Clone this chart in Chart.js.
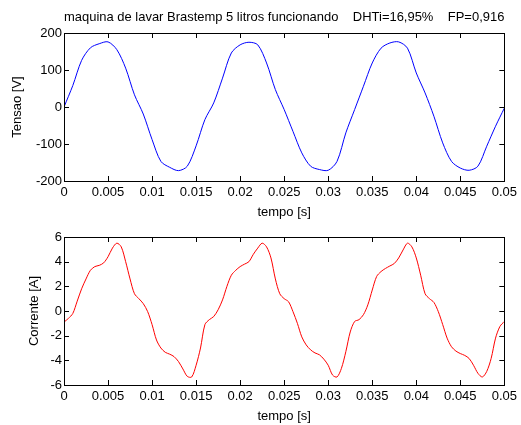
<!DOCTYPE html>
<html>
<head>
<meta charset="utf-8">
<script src="https://cdn.jsdelivr.net/npm/chart.js@4"></script>
<style>
  body { margin: 0; background: #fff; }
  #wrap { position: relative; width: 521px; height: 425px; }
  canvas { position: absolute; left: 0; }
  #tensao { top: 0; }
  #corrente { top: 220px; }
</style>
</head>
<body>
<div id="wrap">
  <canvas id="tensao" width="521" height="220"></canvas>
  <canvas id="corrente" width="521" height="204"></canvas>
</div>
<script>
// time base for the voltage trace (s)
const tempoV = [0, 0.001, 0.002, 0.003, 0.004, 0.005, 0.006, 0.007, 0.008, 0.009,
  0.010, 0.011, 0.012, 0.013, 0.014, 0.015, 0.016, 0.017, 0.018, 0.019,
  0.020, 0.021, 0.022, 0.023, 0.024, 0.025, 0.026, 0.027, 0.028, 0.029,
  0.030, 0.031, 0.032, 0.033, 0.034, 0.035, 0.036, 0.037, 0.038, 0.039,
  0.040, 0.041, 0.042, 0.043, 0.044, 0.045, 0.046, 0.047, 0.048, 0.049, 0.050];
// voltage [V]
const tensao = [0, 58, 126, 160, 171, 176, 155, 105, 33, -19,
  -88, -147, -163, -172, -160, -105, -34, 11, 78, 146,
  168, 175, 168, 119, 47, -7, -66, -124, -160, -169,
  -171, -147, -70, -7, 56, 119, 159, 173, 176, 159,
  92, 38, -25, -97, -147, -165, -171, -160, -106, -52, -3];

// time base for the current trace (s)
const tempoI = [0, 0.0005, 0.001, 0.0015, 0.002, 0.0025, 0.003, 0.0035, 0.004, 0.0045,
  0.005, 0.0055, 0.006, 0.0065, 0.007, 0.0075, 0.008, 0.0085, 0.009, 0.0095,
  0.010, 0.0105, 0.011, 0.0115, 0.012, 0.0125, 0.013, 0.0135, 0.014, 0.0145,
  0.015, 0.0155, 0.016, 0.0165, 0.017, 0.0175, 0.018, 0.0185, 0.019, 0.0195,
  0.020, 0.0205, 0.021, 0.0215, 0.022, 0.0225, 0.023, 0.0235, 0.024, 0.0245,
  0.025, 0.0255, 0.026, 0.0265, 0.027, 0.0275, 0.028, 0.0285, 0.029, 0.0295,
  0.030, 0.0305, 0.031, 0.0315, 0.032, 0.0325, 0.033, 0.0335, 0.034, 0.0345,
  0.035, 0.0355, 0.036, 0.0365, 0.037, 0.0375, 0.038, 0.0385, 0.039, 0.0395,
  0.040, 0.0405, 0.041, 0.0415, 0.042, 0.0425, 0.043, 0.0435, 0.044, 0.0445,
  0.045, 0.0455, 0.046, 0.0465, 0.047, 0.0475, 0.048, 0.0485, 0.049, 0.0495, 0.050];
// current [A]
const corrente = [-0.9, -0.6, -0.2, 0.8, 1.8, 2.6, 3.3, 3.6, 3.7, 3.9,
  4.4, 5.1, 5.5, 5.2, 4.0, 2.6, 1.4, 1.0, 0.6, -0.05,
  -1.1, -2.35, -3.0, -3.35, -3.5, -3.7, -4.1, -4.7, -5.3, -5.35,
  -4.4, -3.0, -1.1, -0.7, -0.45, 0.1, 0.9, 2.0, 2.9, 3.3,
  3.6, 3.8, 4.0, 4.6, 5.1, 5.5, 5.2, 4.3, 2.6, 1.4,
  1.0, 0.75, -0.05, -1.0, -2.1, -2.75, -3.15, -3.4, -3.55, -3.9,
  -4.4, -5.2, -5.35, -4.65, -3.3, -1.7, -0.85, -0.7, -0.3, 0.5,
  1.7, 2.8, 3.2, 3.45, 3.65, 3.85, 4.3, 4.95, 5.5, 5.2,
  4.3, 2.9, 1.4, 1.0, 0.7, -0.05, -1.1, -2.2, -2.9, -3.25,
  -3.45, -3.6, -3.85, -4.4, -5.05, -5.35, -4.9, -3.85, -2.2, -1.25, -0.85];

const tituloTexto = "maquina de lavar Brastemp 5 litros funcionando    DHTi=16,95%    FP=0,916";

const FONT = { family: "'Liberation Sans', Arial, sans-serif", size: 13 };

// matlab style box with inward ticks on all four sides
const boxTicks = {
  id: "boxTicks",
  afterDraw(chart) {
    const { ctx, chartArea: a, scales } = chart;
    const x = scales.x, y = scales.y;
    ctx.save();
    ctx.strokeStyle = "#000";
    ctx.lineWidth = 1;
    ctx.beginPath();
    x.ticks.forEach(t => {
      const px = Math.round(x.getPixelForValue(t.value)) + 0.5;
      ctx.moveTo(px, a.bottom); ctx.lineTo(px, a.bottom - 5);
      ctx.moveTo(px, a.top); ctx.lineTo(px, a.top + 5);
    });
    y.ticks.forEach(t => {
      const py = Math.round(y.getPixelForValue(t.value)) + 0.5;
      ctx.moveTo(a.left, py); ctx.lineTo(a.left + 5, py);
      ctx.moveTo(a.right, py); ctx.lineTo(a.right - 5, py);
    });
    ctx.stroke();
    ctx.strokeRect(Math.round(a.left) + 0.5, Math.round(a.top) + 0.5,
      Math.round(a.right - a.left), Math.round(a.bottom - a.top));
    ctx.restore();
  }
};

function makeChart(id, xs, ys, color, yLabel, yMin, yMax, yStep, opts) {
  const pts = xs.map((t, i) => ({ x: t, y: ys[i] }));
  return new Chart(document.getElementById(id), {
    type: "line",
    data: {
      datasets: [{
        data: pts,
        borderColor: color,
        borderWidth: 1,
        pointRadius: 0,
        tension: 0.3,
        fill: false
      }]
    },
    options: {
      responsive: false,
      animation: false,
      layout: { padding: opts.padding },
      plugins: {
        legend: { display: false },
        tooltip: { enabled: false },
        title: opts.title ? {
          display: true,
          text: opts.title,
          fullSize: false,
          color: "#000",
          font: { ...FONT, weight: "normal" },
          padding: { top: 10, bottom: 7.4 }
        } : { display: false }
      },
      scales: {
        x: {
          type: "linear",
          min: 0,
          max: 0.05,
          grid: { display: false, drawTicks: false, tickLength: 0 },
          border: { display: false },
          ticks: {
            stepSize: 0.005,
            autoSkip: false,
            maxRotation: 0,
            padding: 4,
            color: "#000",
            font: FONT,
            callback: v => String(+v.toFixed(3))
          },
          title: { display: true, text: "tempo [s]", color: "#000", font: FONT, padding: 0 },
          afterFit(s) { s.height = 39; }
        },
        y: {
          min: yMin,
          max: yMax,
          grid: { display: false, drawTicks: false, tickLength: 0 },
          border: { display: false },
          ticks: { stepSize: yStep, padding: 2, color: "#000", font: FONT },
          title: { display: true, text: yLabel, color: "#000", font: FONT, padding: 0 },
          afterFit(s) { s.width = opts.yWidth; }
        }
      }
    },
    plugins: [boxTicks]
  });
}

makeChart("tensao", tempoV, tensao, "#0000ff", "Tensao [V]", -200, 200, 100,
  { title: tituloTexto, padding: { left: 10, right: 12, top: 0, bottom: 0 }, yWidth: 54 });
makeChart("corrente", tempoI, corrente, "#ff0000", "Corrente [A]", -6, 6, 2,
  { padding: { left: 27, right: 12, top: 17, bottom: 0 }, yWidth: 37 });
</script>
</body>
</html>
